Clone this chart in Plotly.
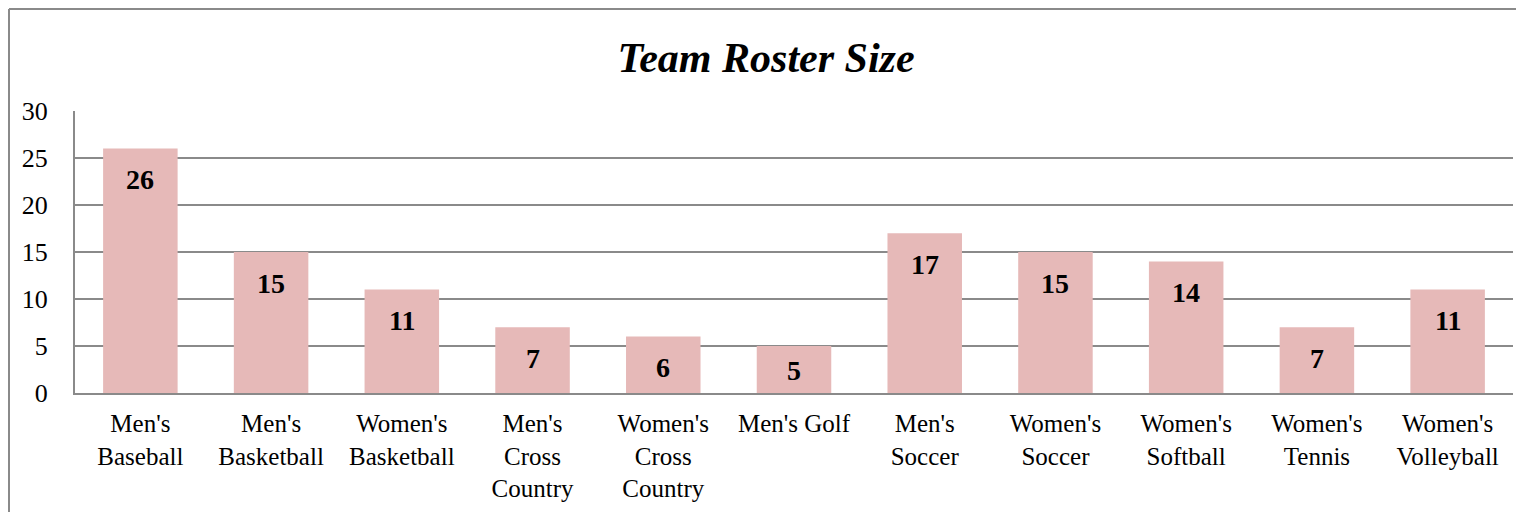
import plotly.graph_objects as go

# data
teams = ["Men's<br>Baseball", "Men's<br>Basketball", "Women's<br>Basketball",
         "Men's<br>Cross<br>Country", "Women's<br>Cross<br>Country", "Men's Golf",
         "Men's<br>Soccer", "Women's<br>Soccer", "Women's<br>Softball",
         "Women's<br>Tennis", "Women's<br>Volleyball"]
roster = [26, 15, 11, 7, 6, 5, 17, 15, 14, 7, 11]
y_ticks = [0, 5, 10, 15, 20, 25, 30]

FONT = "Liberation Serif, Times New Roman, serif"
GRID = "#8a8a8a"
PX_PER_UNIT = 282 / 30  # plot height / y range

fig = go.Figure()
fig.add_trace(go.Bar(
    x=teams, y=roster,
    marker=dict(color="#E6B9B8", line=dict(width=0)),
    hoverinfo="x+y",
))

# value labels inside the bar, near the top (short bars keep the label inside)
for t, v in zip(teams, roster):
    shift = min(31, v * PX_PER_UNIT - 23)
    fig.add_annotation(x=t, y=v, text=f"<b>{v}</b>", showarrow=False,
                       yanchor="middle", yshift=-shift,
                       font=dict(family=FONT, size=28, color="black"))

# page has an 8px body margin, so the figure is 8px smaller than the window
fig.update_layout(
    width=1516, height=504,
    margin=dict(l=67, r=11, t=103, b=119, autoexpand=False),
    paper_bgcolor="white", plot_bgcolor="white",
    bargap=0.43,
    showlegend=False,
    font=dict(family=FONT, size=26, color="black"),
    title=dict(text="<b><i>Team Roster Size</i></b>", x=0.5, xanchor="center",
               y=0.903, yanchor="middle",
               font=dict(family=FONT, size=42, color="black")),
    xaxis=dict(showgrid=False, showline=True, linecolor=GRID, linewidth=2,
               ticks="", tickangle=0, ticklabelstandoff=7, automargin=False,
               tickfont=dict(family=FONT, size=25)),
    yaxis=dict(range=[0, 30], tickvals=y_ticks, showgrid=True, gridcolor=GRID,
               gridwidth=2, showline=True, linecolor=GRID, linewidth=2,
               zeroline=False, ticks="", ticklabelstandoff=20, automargin=False,
               tickfont=dict(family=FONT, size=26)),
)

# outer chart border (left and top edges visible in the reference)
fig.add_shape(type="line", xref="paper", yref="paper",
              x0=-0.0459, x1=-0.0459, y0=-0.45, y1=1.3617,
              line=dict(color=GRID, width=2))
fig.add_shape(type="line", xref="paper", yref="paper",
              x0=-0.0459, x1=1.01, y0=1.3617, y1=1.3617,
              line=dict(color=GRID, width=2))

fig.write_html("out.html")
